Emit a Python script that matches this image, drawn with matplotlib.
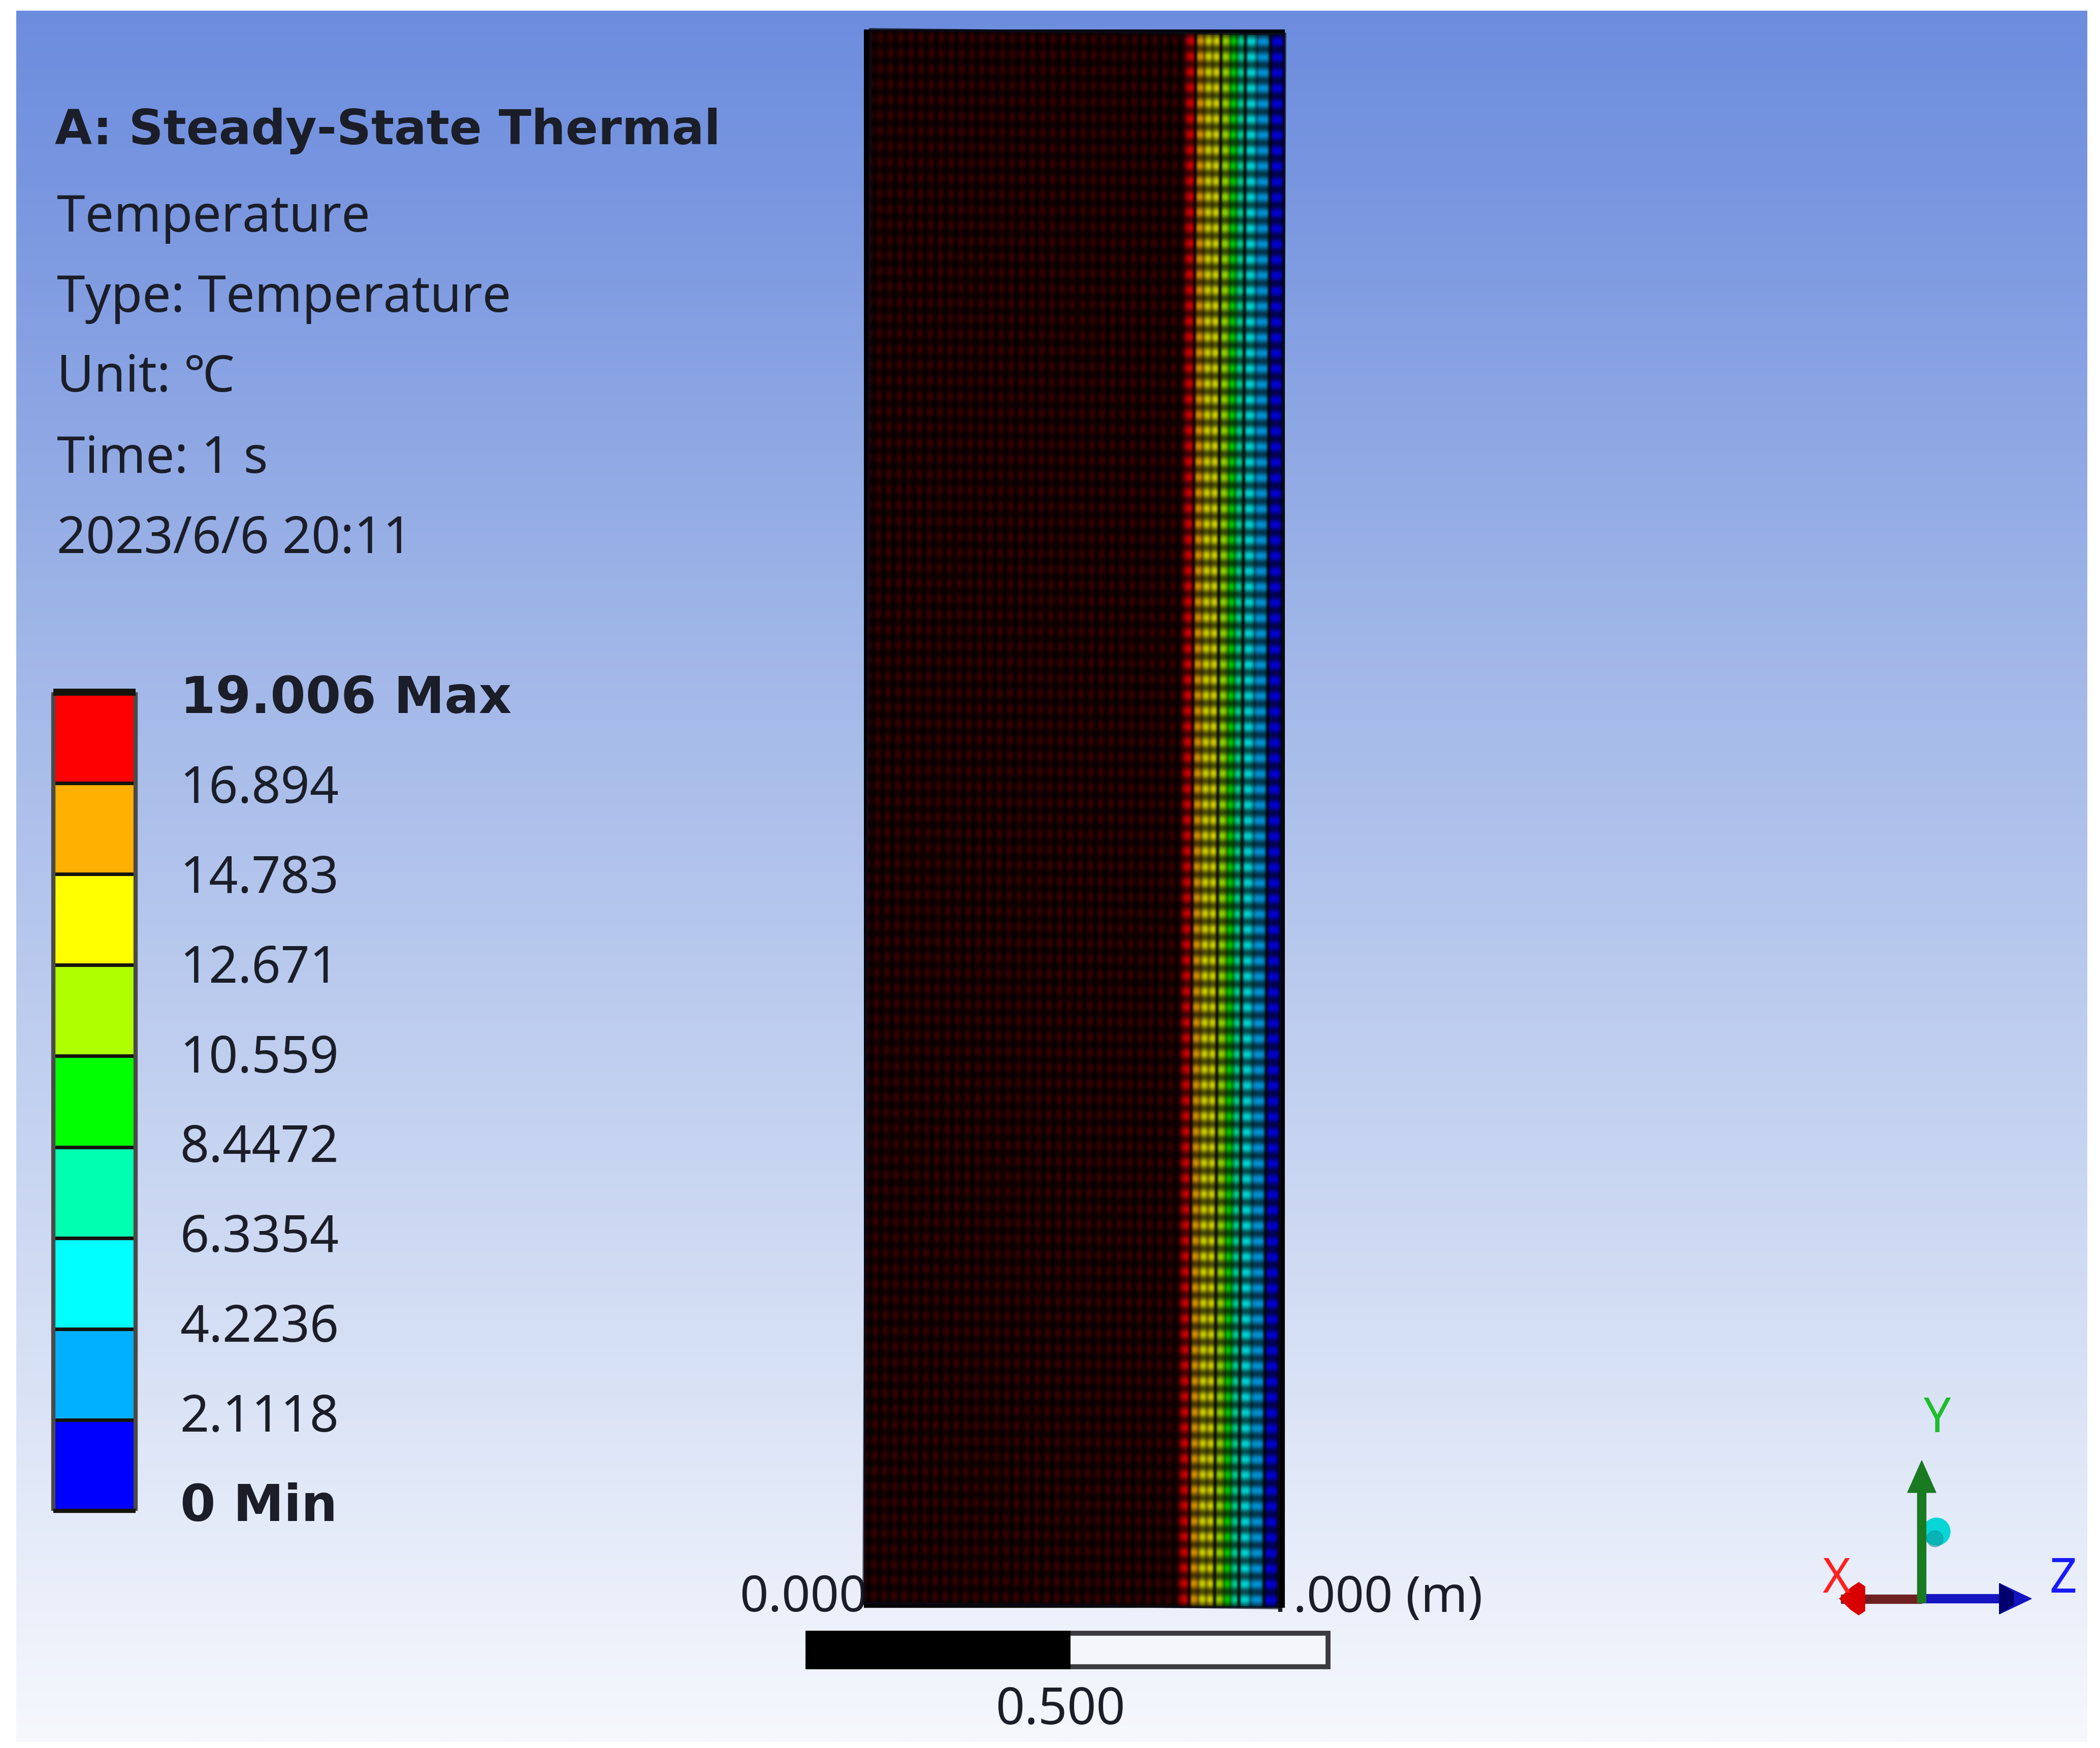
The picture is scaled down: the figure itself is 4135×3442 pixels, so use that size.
#!/usr/bin/env python3
"""Steady-state thermal result view: temperature bands on a meshed plate."""

import matplotlib

matplotlib.use("Agg")
import matplotlib.pyplot as plt
import numpy as np
from matplotlib.colors import BoundaryNorm, ListedColormap
from matplotlib.patches import Circle, FancyArrow, Polygon, Rectangle
from matplotlib.transforms import Affine2D

W, H = 4135, 3442
FONT = ["Noto Sans", "DejaVu Sans"]
BOLD_FONT = ["DejaVu Sans"]
INK = "#1b1e28"

# legend, bottom to top
LEVELS = [0, 2.1118, 4.2236, 6.3354, 8.4472, 10.559, 12.671, 14.783, 16.894, 19.006]
LEVEL_LABELS = ["0 Min", "2.1118", "4.2236", "6.3354", "8.4472", "10.559",
                "12.671", "14.783", "16.894", "19.006 Max"]
BAND_COLORS = ["#0000ff", "#00b0ff", "#00ffff", "#00ffb0", "#00ff00",
               "#b0ff00", "#ffff00", "#ffb000", "#ff0000"]

# temperature across the plate width, 0 = left edge, 1 = right edge
COLUMN_EDGES = [0.752, 0.785, 0.807, 0.846, 0.868, 0.885, 0.905, 0.932, 0.965, 1.0]
COLUMN_TEMPS = [18.0, 15.8, 13.7, 11.6, 9.5, 7.4, 5.3, 3.2, 1.0]
LEFT_TEMP = 19.0

HEADER = ["Temperature", "Type: Temperature", "Unit: ℃", "Time: 1 s", "2023/6/6 20:11"]
HEADER_Y = [430, 588, 744, 905, 1063]

# background colour down the picture
BG_Y = [21, 400, 1250, 2650, 3430]
BG_RGB = [(108, 141, 222), (122, 151, 224), (160, 182, 232), (214, 224, 245), (246, 248, 253)]

MESH_TL = (1714, 58)
MESH_TR = (2530, 67)
MESH_BL = (1701, 3157)
N_ROWS = 101
LEFT_PITCH = 0.0245
STRONG_LINES = [0.785, 0.846, 0.905, 0.965]
WEAK_LINES = [0.807, 0.826, 0.868, 0.885, 0.932]


def mesh_image():
    cmap = ListedColormap(BAND_COLORS)
    norm = BoundaryNorm(LEVELS, cmap.N)
    u = (np.arange(410) + 0.5) / 410
    v = (np.arange(1550) + 0.5) / 1550

    edges = np.array(COLUMN_EDGES)
    idx = np.searchsorted(edges, u, side="right") - 1
    inside = idx >= 0
    temps = np.where(inside, np.array(COLUMN_TEMPS)[np.clip(idx, 0, 8)], LEFT_TEMP)
    rgb = np.array(cmap(norm(temps)))[:, :3]

    # dark region keeps a regular weak grid, the bands get dips at their mesh lines
    frac = (u / LEFT_PITCH + 0.5) % 1
    left_shade = 0.07 + 0.15 * np.sin(np.pi * frac) ** 2
    band_shade = np.full_like(u, 0.82)
    for line in STRONG_LINES:
        band_shade *= 1 - 0.88 * np.exp(-((u - line) / 0.0045) ** 2)
    for line in WEAK_LINES:
        band_shade *= 1 - 0.35 * np.exp(-((u - line) / 0.0050) ** 2)
    band_shade *= 1 - 0.85 * np.exp(-((u - COLUMN_EDGES[0]) / 0.012) ** 2)
    band_shade *= 1 - 0.80 * np.exp(-((u - 1.0) / 0.005) ** 2)
    col_shade = np.where(inside, band_shade, left_shade)
    row_shade = 0.38 + 0.62 * np.sin(np.pi * v * N_ROWS) ** 2

    return rgb[None, :, :] * col_shade[None, :, None] * row_shade[:, None, None]


def draw_triad(ax):
    ox, oy = 3784, 3148
    ax.add_patch(Circle((3813, 3016), 27, color="#08d6d6", zorder=3))
    ax.add_patch(Circle((3810, 3030), 16, color="#0b8f96", alpha=0.5, zorder=3))
    ax.add_patch(Rectangle((ox - 159, oy - 8), 159, 17, color="#6e2020", zorder=4))
    ax.add_patch(Polygon([(3622, oy), (3645, oy - 22), (3660, oy - 32), (3672, oy - 24),
                          (3672, oy + 24), (3660, oy + 32), (3645, oy + 22)],
                         color="#d80000", zorder=5))
    ax.add_patch(FancyArrow(ox, oy, 216, 0, width=17, head_width=60, head_length=63,
                            length_includes_head=True, color="#1414c0", zorder=4))
    ax.add_patch(Polygon([(3937, oy - 30), (3965, oy - 12), (3965, oy + 12), (3937, oy + 30)],
                         color="#00006e", zorder=5))
    ax.add_patch(FancyArrow(ox, oy + 8, 0, -280, width=17, head_width=56, head_length=63,
                            length_includes_head=True, color="#1a7a22", zorder=5))
    for label, x, y, color in [("Y", 3815, 2796, "#1ebd2c"), ("X", 3616, 3112, "#ff2020"),
                               ("Z", 4062, 3112, "#1a1aff")]:
        ax.text(x, y, label, color=color, fontsize=68, family=FONT,
                ha="center", va="center", zorder=6)


def main():
    fig = plt.figure(figsize=(W / 100, H / 100), dpi=100, facecolor="white")
    ax = fig.add_axes([0, 0, 1, 1])
    ax.set_axis_off()

    # viewport background
    rows = np.arange(21, 3431)
    grad = np.stack([np.interp(rows, BG_Y, [c[i] for c in BG_RGB]) for i in range(3)], axis=1)
    ax.imshow(grad[:, None, :] / 255, extent=(32, 4110, 3430, 21), aspect="auto",
              interpolation="bilinear", zorder=0)

    # ruler labels sit under the plate
    ax.text(1709, 3148, "0.000", ha="right", va="center", fontsize=71, color=INK,
            family=FONT, zorder=1)
    ax.text(2919, 3148, "1.000 (m)", ha="right", va="center", fontsize=71, color=INK,
            family=FONT, zorder=1)

    # plate, sheared slightly as in the view
    a, b = np.array(MESH_TR) - np.array(MESH_TL), np.array(MESH_BL) - np.array(MESH_TL)
    skew = Affine2D.from_values(a[0], a[1], b[0], b[1], MESH_TL[0], MESH_TL[1])
    im = ax.imshow(mesh_image(), extent=(0, 1, 1, 0), aspect="auto",
                   interpolation="bilinear", zorder=2)
    im.set_transform(skew + ax.transData)
    corners = skew.transform([(0, 0), (1, 0), (1, 1), (0, 1)])
    ax.add_patch(Polygon(corners, closed=True, fill=False, edgecolor="#0a0c18",
                         linewidth=4, alpha=0.7, zorder=3))

    ax.set_xlim(0, W)
    ax.set_ylim(H, 0)

    # scale bar
    ax.add_patch(Rectangle((1591, 3216), 1024, 66, facecolor="#f4f6fc", edgecolor="#3a3a40",
                           linewidth=7, zorder=2))
    ax.add_patch(Rectangle((1591, 3216), 512, 66, facecolor="black", edgecolor="black",
                           linewidth=7, zorder=2))
    ax.text(2088, 3368, "0.500", ha="center", va="center", fontsize=72, color=INK,
            family=FONT)

    # header block
    ax.text(108, 258, "A: Steady-State Thermal", fontsize=68, fontweight="bold",
            color=INK, family=BOLD_FONT, va="center")
    for line, y in zip(HEADER, HEADER_Y):
        ax.text(112, y, line, fontsize=72, color=INK, family=FONT, va="center")

    # legend bar, labels are its ticks
    cax = fig.add_axes([105 / W, 1 - 2975 / H, 162 / W, (2975 - 1363) / H])
    cmap = ListedColormap(BAND_COLORS)
    positions = np.arange(len(LEVELS))
    cax.pcolormesh([0, 1], positions, np.arange(9)[:, None], cmap=cmap,
                   edgecolors="#14140c", linewidth=5)
    cax.set_xticks([])
    cax.yaxis.tick_right()
    # labels run a little tighter than the band edges
    cax.set_yticks(positions * 0.987 + 0.10, LEVEL_LABELS, fontsize=72, color=INK, family=FONT)
    cax.set_ylim(0, 9)
    cax.tick_params(axis="y", length=0, pad=63)
    for tick in (cax.get_yticklabels()[0], cax.get_yticklabels()[-1]):
        tick.set_fontweight("bold")
        tick.set_family(BOLD_FONT)
    for side, spine in cax.spines.items():
        spine.set_edgecolor("#14140c" if side in ("top", "bottom") else "#4a4a48")
        spine.set_linewidth(10 if side == "top" else 6)
        spine.set_capstyle("butt")

    draw_triad(ax)
    fig.savefig("out.png", dpi=100, facecolor="white")


if __name__ == "__main__":
    main()
